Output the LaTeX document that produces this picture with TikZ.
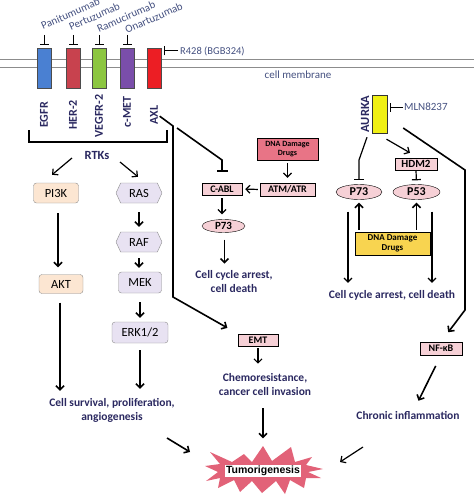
\documentclass[tikz,border=0pt]{standalone}
\usepackage{fontspec}
\setmainfont{Carlito}
\newfontfamily\arialfont{Liberation Sans}
\usetikzlibrary{positioning,calc,arrows.meta,shapes.geometric,shapes.symbols}
\definecolor{navy}{RGB}{42,40,96}
\definecolor{slate}{RGB}{68,80,128}
\definecolor{peachc}{RGB}{252,230,210}
\definecolor{lavc}{RGB}{232,226,242}
\definecolor{pinkc}{RGB}{246,208,214}
\definecolor{rosec}{RGB}{232,116,134}
\definecolor{goldc}{RGB}{248,212,80}
\definecolor{aurkac}{RGB}{240,240,20}
\definecolor{burstc}{RGB}{226,98,120}
\definecolor{egfrc}{RGB}{74,128,210}
\definecolor{her2c}{RGB}{200,66,78}
\definecolor{vegfrc}{RGB}{140,198,64}
\definecolor{cmetc}{RGB}{122,78,170}
\definecolor{axlc}{RGB}{236,30,36}

\begin{document}
\begin{tikzpicture}[x=1pt,y=-1pt,>={Straight Barb[length=4pt,width=8pt]}]
            \tikzstyle{rec}=[draw=black!70, minimum width=14pt, minimum height=40pt, inner sep=0pt]
            \tikzstyle{mab}=[text=slate, font=\fontsize{11}{13}\selectfont, inner sep=0pt]
            \tikzstyle{rlab}=[text=navy, font=\fontsize{12}{14}\selectfont\bfseries, rotate=90, inner sep=0pt]
            \tikzstyle{lab}=[text=navy, font=\fontsize{11.5}{14}\selectfont\bfseries, align=center, inner sep=1pt]
            \tikzstyle{pbox}=[rounded corners=3pt, draw=black!45, fill=peachc, font=\fontsize{12.5}{14}\selectfont, inner sep=0pt]
            \tikzstyle{lbox}=[pbox, fill=lavc]
            \tikzstyle{hexa}=[signal, signal to=east and west, signal pointer angle=130, draw=black!45, fill=lavc, font=\fontsize{12.5}{14}\selectfont, inner sep=0pt, minimum width=46pt, minimum height=20pt]
            \tikzstyle{kbox}=[draw=black, fill=pinkc, font=\fontsize{10}{12}\selectfont\bfseries, inner sep=0pt, minimum height=12pt]
            \tikzstyle{kell}=[ellipse, draw=black, fill=pinkc, font=\fontsize{11}{12}\selectfont\bfseries, inner sep=0pt]
            \tikzstyle{barr}=[->, line width=1.6pt]
            \tikzstyle{sarr}=[->, line width=1.2pt]
            \tikzstyle{inh}=[-{Bar[width=9pt]}, line width=1.2pt]
            \useasboundingbox (0,0) rectangle (474,495);
            % membrane and receptors
            \draw[black!45, line width=1pt] (0,60) -- (474,60) (0,68) -- (474,68);
            \node[rec, fill=egfrc] (egfr) at (44,68) {};
            \node[rec, fill=her2c] (her2) at (73,68) {};
            \node[rec, fill=vegfrc] (vegfr) at (99,68) {};
            \node[rec, fill=cmetc] (cmet) at (127,68) {};
            \node[rec, fill=axlc] (axl) at (154,68) {};
            \node[mab, rotate=24, anchor=base west] (panit) at (43,30) {Panitumumab};
            \node[mab, rotate=24, anchor=base west] (pertu) at (71,31) {Pertuzumab};
            \node[mab, rotate=24, anchor=base west] (ramu) at (99,33) {Ramucirumab};
            \node[mab, rotate=24, anchor=base west] (onar) at (127,34) {Onartuzumab};
            \foreach \r in {egfr,her2,vegfr,cmet}
                \draw[inh, line width=1pt] ([yshift=13pt]\r.north) -- ([yshift=3pt]\r.north);
            \node[mab, anchor=west, font=\fontsize{10.5}{12}\selectfont] (r428) at (180,51) {R428 (BGB324)};
            \draw[inh, line width=1pt, shorten >=3pt, shorten <=2pt] (r428.west) -- (axl.east |- r428.west);
            \node[mab] (memb) at (298,75) {cell membrane};
            \node[rlab] (egfrl) at (44,115) {EGFR};
            \node[rlab] (her2l) at (73,115) {HER-2};
            \node[rlab] (vegfrl) at (99,116) {VEGFR-2};
            \node[rlab] (cmetl) at (127,112) {c-MET};
            \node[rlab] (axll) at (154,115) {AXL};
            \draw[line width=1.6pt] (29,130) -- (29,142) -- (167,142) -- (167,130);
            \node[lab, font=\fontsize{12.5}{14}\selectfont\bfseries] (rtks) at (97,155) {RTKs};
            % PI3K and MAPK branches
            \node[pbox, minimum width=45pt, minimum height=20pt] (pi3k) at (56,193) {PI3K};
            \node[pbox, minimum width=44pt, minimum height=19pt] (akt) at (61,284) {AKT};
            \node[hexa] (ras) at (139,193) {RAS};
            \node[hexa] (raf) at (139,242) {RAF};
            \node[lbox, minimum width=43pt, minimum height=21pt] (mek) at (140,282.5) {MEK};
            \node[lbox, minimum width=56pt, minimum height=21pt] (erk) at (140,332.5) {ERK1/2};
            \node[lab] (survival) at (112,410) {Cell survival, proliferation,\\angiogenesis};
            \draw[sarr] ([xshift=-25pt,yshift=-3pt]rtks.center) -- ([xshift=-4pt,yshift=8pt]pi3k.north);
            \draw[sarr] ([xshift=23pt,yshift=-7pt]rtks.center) -- ([xshift=-1pt,yshift=6pt]ras.north);
            \draw[barr, shorten <=10pt, shorten >=7pt] ([xshift=2pt]pi3k.south) -- ([xshift=-3pt]akt.north);
            \draw[barr, shorten <=9pt, shorten >=5pt] (ras.south) -- (raf.north);
            \draw[barr, shorten <=6pt, shorten >=4pt] (raf.south) -- ([xshift=-1pt]mek.north);
            \draw[barr, shorten <=9pt, shorten >=4pt] (mek.south) -- (erk.north);
            \draw[barr, shorten <=9pt, shorten >=6pt] ([xshift=-1pt]akt.south) -- ([xshift=-1pt]akt.south |- survival.north);
            \draw[barr, shorten <=7pt, shorten >=8pt] (erk.south) -- (erk.south |- survival.north);
            % AXL / C-ABL / EMT
            \node[kbox, minimum width=40pt] (cabl) at (222,189) {C-ABL};
            \node[kbox, minimum width=55pt, minimum height=13pt] (atm) at (287.5,189.5) {ATM/ATR};
            \node[kbox, fill=rosec, minimum width=61pt, minimum height=22pt, align=center, font=\fontsize{8}{9}\selectfont\bfseries] (dna1) at (287.5,149) {DNA Damage\\Drugs};
            \node[kell, minimum width=43pt, minimum height=13pt] (p73a) at (223.5,226) {P73};
            \node[lab] (arrest1) at (234,282) {Cell cycle arrest,\\cell death};
            \node[kbox, minimum width=40pt] (emt) at (258,340) {EMT};
            \node[lab] (chemo) at (265,385) {Chemoresistance,\\cancer cell invasion};
            \coordinate (axlj) at (173,126);
            \coordinate (axlk) at (173,297);
            \coordinate (cablk) at (222,160);
            \draw[barr, shorten <=2pt, shorten >=12pt] (axll.south) -- (axlj) -- (axlk) -- (emt.north west);
            \draw[-{Bar[width=11pt]}, line width=1.6pt, shorten >=11pt] ([xshift=4pt,yshift=-2pt]axlj) -- (cablk) -- (cabl.north);
            \draw[sarr, shorten <=3pt, shorten >=5pt] (dna1.south) -- (atm.north);
            \draw[sarr, shorten <=2pt, shorten >=3pt] (atm.west) -- (cabl.east);
            \draw[sarr, shorten <=3pt, shorten >=5pt] (cabl.south) -- (cabl.south |- p73a.north);
            \draw[barr, shorten <=7pt, shorten >=6pt] ([xshift=1pt]p73a.south) -- ([xshift=1pt]p73a.south |- arrest1.north);
            \draw[sarr, shorten <=2pt, shorten >=9pt] (emt.south) -- (emt.south |- chemo.north);
            % AURKA branch
            \node[draw=black!80, fill=aurkac, minimum width=15pt, minimum height=38pt, inner sep=0pt] (aurka) at (379.5,114) {};
            \node[rlab, font=\fontsize{12.5}{14}\selectfont\bfseries] (aurkal) at (365,114) {AURKA};
            \node[mab, anchor=west] (mln) at (404,107) {MLN8237};
            \draw[inh, line width=1pt, shorten >=3pt, shorten <=1pt] (mln.west) -- (aurka.east |- mln.west);
            \node[kbox, minimum width=42pt, font=\fontsize{11}{12}\selectfont\bfseries] (hdm2) at (416,164) {HDM2};
            \node[kell, minimum width=46pt, minimum height=15pt, font=\fontsize{12}{13}\selectfont\bfseries] (p73b) at (359,192) {P73};
            \node[kell, minimum width=47pt, minimum height=15pt, font=\fontsize{12}{13}\selectfont\bfseries] (p53) at (416.5,192) {P53};
            \node[kbox, fill=goldc, minimum width=75pt, minimum height=23pt, align=center, font=\fontsize{9}{10.5}\selectfont\bfseries] (dna2) at (392.5,243.5) {DNA Damage\\Drugs};
            \node[lab] (arrest2) at (392,295) {Cell cycle arrest, cell death};
            \node[kbox, minimum width=42pt, minimum height=13pt] (nfkb) at (441,348.5) {NF-κB};
            \node[lab] (chronic) at (408,415) {Chronic inflammation};
            \coordinate (aurk1) at (359,160);
            \coordinate (nf1) at (465,170);
            \coordinate (nf2) at (465,310);
            \draw[-{Bar[width=10pt]}, line width=1.2pt, shorten >=4pt] ([xshift=-12.5pt,yshift=-4pt]aurka.south) -- (aurk1) -- (p73b.north);
            \draw[sarr] ([xshift=7pt,yshift=-6pt]aurka.south) -- ([xshift=-6pt,yshift=5pt]hdm2.north);
            \draw[inh, shorten >=4pt] (hdm2.south) -- (p53.north);
            \draw[barr, shorten <=2pt, shorten >=3pt] (dna2.north -| p73b) -- (p73b.south);
            \draw[barr, shorten <=2pt, shorten >=3pt] (dna2.north -| p53) -- (p53.south);
            \draw[sarr, shorten <=12pt, shorten >=6pt] ([xshift=-11pt]p73b.south) -- ([xshift=-11pt]p73b.south |- arrest2.north);
            \draw[sarr, shorten <=12pt, shorten >=6pt] ([xshift=15.5pt]p53.south) -- ([xshift=15.5pt]p53.south |- arrest2.north);
            \draw[barr, shorten >=12pt] ([xshift=16pt,yshift=-14pt]aurka.east) -- (nf1) -- (nf2) -- (nfkb.north);
            \draw[barr, shorten <=12pt, shorten >=10pt] (nfkb.south) -- ([xshift=6pt]chronic.north);
            % tumorigenesis burst
            \fill[burstc] (205,466) -- (220,464) -- (210,452) -- (232,462) -- (244,454) -- (252,462)
                -- (263,446) -- (272,461) -- (291,447) -- (295,462) -- (312,457) -- (306,465)
                -- (323,469) -- (308,472) -- (321,478) -- (306,478) -- (304,488) -- (290,480)
                -- (285,494) -- (276,481) -- (262,493) -- (252,481) -- (240,492) -- (234,480)
                -- (218,488) -- (220,478) -- (206,481) -- (218,472) -- cycle;
            \node[fill=white, font=\fontsize{10.5}{12}\selectfont\arialfont\bfseries, inner sep=1.5pt] (tumor) at (263,471) {Tumorigenesis};
            \draw[barr] ([xshift=55pt,yshift=-28pt]survival.center) -- ([xshift=-73pt,yshift=19pt]tumor.center);
            \draw[barr, shorten <=11pt, shorten >=26pt] ([xshift=-2pt]chemo.south) -- ([xshift=-2pt]chemo.south |- tumor.north);
            \draw[sarr] ([xshift=-45pt,yshift=-32pt]chronic.center) -- ([xshift=77pt,yshift=9pt]tumor.center);
        \end{tikzpicture}
\end{document}
